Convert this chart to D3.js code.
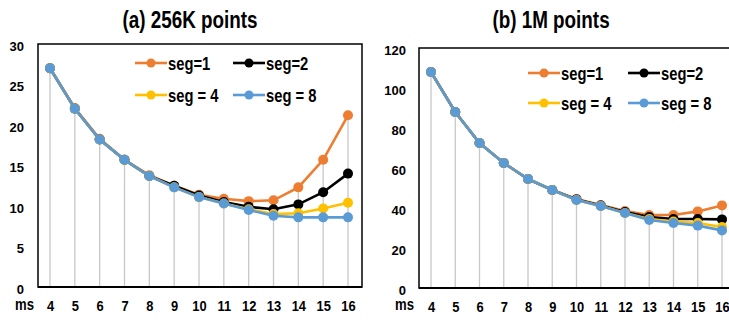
<!DOCTYPE html>
<html>
<head>
<meta charset="utf-8">
<script src="https://cdn.jsdelivr.net/npm/d3@7"></script>
<style>
body{margin:0;background:#fff;}
svg{display:block;font-family:"Liberation Sans",Arial,sans-serif;font-weight:bold;}
</style>
</head>
<body>
<svg id="chart" width="729" height="320"></svg>
<script>
// x categories (ms)
var msValues = [4,5,6,7,8,9,10,11,12,13,14,15,16];
var seriesNames = ["seg=1","seg=2","seg = 4","seg = 8"];
var seriesColors = ["#ED7D31","#000000","#FFC000","#5B9BD5"];

// (a) 256K points
var a_seg1 = [27,22.1,18.3,15.7,13.8,12.5,11.4,10.9,10.6,10.7,12.3,15.7,21.2];
var a_seg2 = [27,22,18.2,15.7,13.7,12.5,11.3,10.5,9.9,9.6,10.2,11.7,14.0];
var a_seg4 = [27,22,18.2,15.7,13.7,12.3,11.1,10.3,9.6,9.0,9.1,9.7,10.4];
var a_seg8 = [27,22,18.2,15.7,13.7,12.3,11.1,10.3,9.5,8.8,8.6,8.6,8.6];
var a_yTicks = [0,5,10,15,20,25,30];

// (b) 1M points
var b_seg1 = [108,88,72.5,62.5,54.5,49,44.5,41.5,38.5,36.5,36.5,38.3,41.3];
var b_seg2 = [108,88,72.5,62.5,54.5,49,44.3,41.2,38,35.5,34.5,34.5,34.3];
var b_seg4 = [108,88,72.5,62.5,54.5,49,44,41,37.5,34.5,33.2,32.5,30.5];
var b_seg8 = [108,88,72.5,62.5,54.5,49,44,41,37.5,34,32.5,31.2,28.8];
var b_yTicks = [0,20,40,60,80,100,120];

var svg = d3.select("#chart");
var narrow = 0.82; // the reference uses a condensed face, squeeze Liberation Sans

function addText(g, x, y, size, str, anchor)
{
	return g.append("text")
		.attr("transform","translate("+x+","+y+") scale("+narrow+",1)")
		.attr("text-anchor",anchor || "start")
		.style("font-size",size+"px").text(str);
}

function styleAxis(axisG, size, sx, dy)
{
	axisG.selectAll("text").each(function(){
		var t = d3.select(this);
		var xv = +t.attr("x") || 0;
		t.attr("x", xv/sx).attr("transform","translate(0,"+dy+") scale("+sx+",1)")
			.style("font-size",size+"px").style("font-family","Liberation Sans, Arial, sans-serif")
			.style("font-weight","bold").attr("fill","#000");
	});
}

function drawPanel(p)
{
	var g = svg.append("g");
	var x = d3.scalePoint().domain(msValues).range([p.x0, p.x1]);
	var y = d3.scaleLinear().domain([0, p.yMax]).range([p.bottom, p.top]);

	addText(g, p.titleX, 28, 23, p.title, "middle");

	// drop lines from top value down to axis
	msValues.forEach(function(m,i){
		var top = d3.max(p.series, function(s){ return s[i]; });
		g.append("line").attr("x1",x(m)).attr("x2",x(m))
			.attr("y1",y(top)).attr("y2",p.bottom)
			.attr("stroke","#c8c8c8").attr("stroke-width",1.3);
	});

	// frame
	g.append("rect").attr("x",p.left).attr("y",p.top)
		.attr("width",p.right-p.left).attr("height",p.bottom-p.top)
		.attr("fill","none").attr("stroke","#000").attr("stroke-width",1.5);
	g.append("line").attr("x1",p.left).attr("x2",p.right)
		.attr("y1",p.bottom).attr("y2",p.bottom)
		.attr("stroke","#000").attr("stroke-width",2.2);

	// y axis
	var yAxis = d3.axisLeft(y).tickValues(p.yTicks).tickSize(0).tickPadding(p.yPad);
	var ya = g.append("g").attr("transform","translate("+p.left+",0)").call(yAxis);
	ya.select(".domain").remove();
	styleAxis(ya, 13, 1, 2);

	// x axis
	var xAxis = d3.axisBottom(x).tickSize(0).tickPadding(13);
	var xa = g.append("g").attr("transform","translate(0,"+p.bottom+")").call(xAxis);
	xa.select(".domain").remove();
	styleAxis(xa, 15, 0.86, 0);

	addText(g, p.msX, p.bottom+p.msDy, 16, "ms");

	// series
	var line = d3.line().x(function(d,i){ return x(msValues[i]); }).y(function(d){ return y(d); });
	p.series.forEach(function(s,k){
		g.append("path").datum(s).attr("d",line).attr("fill","none")
			.attr("stroke",seriesColors[k]).attr("stroke-width",2.6);
		g.selectAll(null).data(s).enter().append("circle")
			.attr("cx",function(d,i){ return x(msValues[i]); })
			.attr("cy",function(d){ return y(d); })
			.attr("r",5).attr("fill",seriesColors[k]);
	});

	// legend
	seriesNames.forEach(function(name,k){
		var lx = p.legX + (k%2)*p.legDx;
		var ly = p.legY + Math.floor(k/2)*p.legDy;
		g.append("line").attr("x1",lx).attr("x2",lx+32).attr("y1",ly).attr("y2",ly)
			.attr("stroke",seriesColors[k]).attr("stroke-width",2.6);
		g.append("circle").attr("cx",lx+16).attr("cy",ly).attr("r",4.5).attr("fill",seriesColors[k]);
		addText(g, lx+33, ly+6.5, 18, name);
	});
}

drawPanel({
	title:"(a) 256K points", titleX:190,
	left:38, right:362, top:44, bottom:287, x0:50, x1:348,
	yMax:30, yTicks:a_yTicks, yPad:14, msX:15, msDy:23,
	series:[a_seg1,a_seg2,a_seg4,a_seg8],
	legX:135, legY:63, legDx:98, legDy:32
});

drawPanel({
	title:"(b) 1M points", titleX:551,
	left:419, right:740, top:48, bottom:288, x0:431, x1:722,
	yMax:120, yTicks:b_yTicks, yPad:13, msX:395, msDy:22,
	series:[b_seg1,b_seg2,b_seg4,b_seg8],
	legX:528, legY:73, legDx:100, legDy:30
});
</script>
</body>
</html>
